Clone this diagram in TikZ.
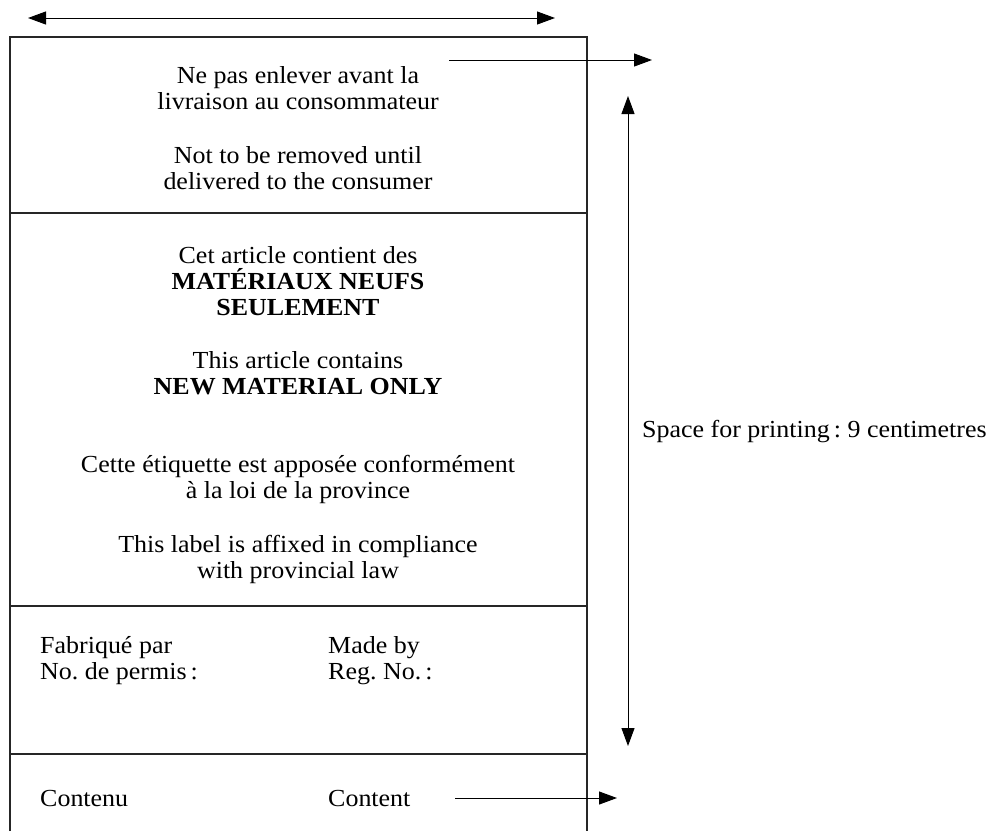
\documentclass[tikz,border=0pt]{standalone}
\usepackage{fontspec}
\setmainfont[FakeStretch=1.06]{Liberation Serif}
\usetikzlibrary{arrows.meta}
\frenchspacing
\begin{document}
\begin{tikzpicture}[x=1pt,y=-1pt,
  txt/.style={inner sep=0pt, align=center, font=\fontsize{24.5}{26}\selectfont},
  ltxt/.style={inner sep=0pt, align=left, anchor=west, font=\fontsize{24.5}{26}\selectfont},
  frame/.style={line width=1.1pt, draw=black!85},
  arr/.style={line width=1pt, -{Triangle[length=18pt,width=13pt]}},
  darr/.style={line width=1pt, {Triangle[length=18pt,width=13pt]}-{Triangle[length=18pt,width=13pt]}}]
\useasboundingbox (0,0) rectangle (993,831);
% frame
\draw[frame] (10,831) -- (10,37) -- (587,37) -- (587,831);
\draw[frame] (10,213) -- (587,213);
\draw[frame] (10,606) -- (587,606);
\draw[frame] (10,754) -- (587,754);
% texts
\node[txt] (t1) at (298,88) {Ne pas enlever avant la\\livraison au consommateur};
\node[txt] (t2) at (298,168) {Not to be removed until\\delivered to the consumer};
\node[txt] (t3) at (298,281) {Cet article contient des\\\textbf{MATÉRIAUX NEUFS}\\\textbf{SEULEMENT}};
\node[txt] (t4) at (298,373) {This article contains\\\textbf{NEW MATERIAL ONLY}};
\node[txt] (t5) at (298,479) {Cette étiquette est apposée conformément\\à la loi de la province};
\node[txt] (t6) at (298,559) {This label is affixed in compliance\\with provincial law};
\node[ltxt] (t7) at (40,661) {Fabriqué par\\No. de permis\,:};
\node[ltxt] (t8) at (328,661) {Made by\\Reg. No.\,:};
\node[ltxt] (t9) at (40,798) {Contenu};
\node[ltxt] (t10) at (328,798) {Content};
\node[ltxt] (sp) at (642,432) {Space for printing\,: 9 centimetres};
% arrows
\coordinate (wl) at (28,18);
\coordinate (wr) at (555,18);
\coordinate (ra) at (449,60);
\coordinate (rb) at (652,60);
\coordinate (va) at (628,96);
\coordinate (vb) at (628,746);
\coordinate (ca) at (455,798);
\coordinate (cb) at (617,798);
\draw[darr] (wl) -- (wr);
\draw[arr] (ra) -- (rb);
\draw[darr] (va) -- (vb);
\draw[arr] (ca) -- (cb);
\end{tikzpicture}
\end{document}
